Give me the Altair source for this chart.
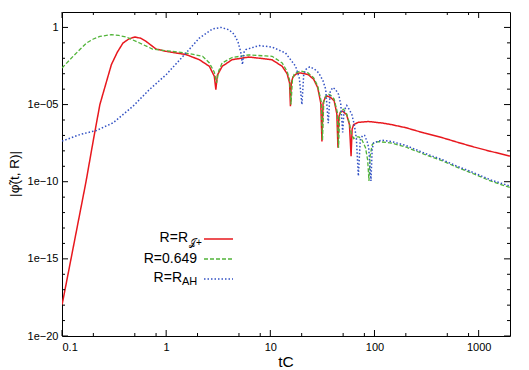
import altair as alt
import pandas as pd

# ---- data (x = tC, values are log10 |phi|) ----
red_x = [0.1, 0.13, 0.17, 0.2, 0.231, 0.265, 0.298, 0.34, 0.385, 0.44, 0.5, 0.57, 0.64, 0.8, 1.0,
         1.55, 2.08, 2.6, 2.9, 3.0, 3.1, 3.45, 4.3, 6.2, 9.0, 10.4, 13.0, 14.5, 15.3, 15.6, 15.9,
         16.5, 18.0, 19.5, 23.0, 26.0, 28.5, 30.5, 31.3, 32.1, 33.9, 35.5, 38.0, 41.0, 43.5, 44.6,
         45.5, 47.0, 49.5, 54.0, 57.5, 59.6, 61.0, 63.0, 70.0, 88.0, 120.0, 146.0, 200.0, 302.0,
         450.0, 632.0, 900.0, 1300.0, 2000.0]
red_logy = [-18.0, -14.05, -10.0, -7.3, -5.0, -3.6, -2.41, -1.6, -1.01, -0.74, -0.62, -0.70, -0.9,
            -1.40, -1.55, -1.76, -2.09, -2.52, -3.17, -4.03, -3.1, -2.52, -2.09, -1.92, -2.04, -2.1,
            -2.52, -3.0, -3.6, -5.1, -3.6, -3.2, -2.98, -2.95, -3.05, -3.35, -3.9, -4.9, -7.4, -4.9,
            -4.5, -4.45, -4.55, -4.75, -5.6, -7.8, -5.8, -5.5, -5.43, -5.65, -6.3, -8.34, -6.6, -6.3,
            -6.15, -6.1, -6.2, -6.3, -6.5, -6.85, -7.15, -7.45, -7.75, -8.03, -8.34]

green_x = [0.1, 0.128, 0.15, 0.172, 0.2, 0.231, 0.298, 0.35, 0.415, 0.556, 0.74, 1.0, 1.55, 2.24,
           2.6, 2.9, 3.05, 3.2, 3.45, 4.3, 6.2, 9.0, 10.4, 13.0, 14.5, 15.3, 15.8, 16.3, 17.0, 19.5,
           23.0, 26.0, 28.5, 30.8, 31.7, 32.6, 34.0, 35.8, 38.0, 41.0, 44.0, 45.2, 46.3, 48.0, 50.5,
           54.0, 57.0, 60.0, 63.0, 67.0, 71.0, 76.0, 82.0, 86.0, 88.5, 91.0, 95.0, 100.0, 110.0,
           146.0, 200.0, 302.0, 450.0, 632.0, 900.0, 1300.0, 2000.0]
green_logy = [-2.63, -1.87, -1.4, -1.01, -0.75, -0.58, -0.47, -0.52, -0.62, -1.01, -1.40, -1.51,
              -1.66, -1.87, -2.3, -2.9, -3.6, -2.8, -2.3, -1.95, -1.78, -1.85, -1.87, -2.3, -2.85,
              -3.4, -5.0, -3.4, -3.0, -2.82, -2.95, -3.25, -3.8, -4.8, -7.3, -4.8, -4.45, -4.3, -4.4,
              -4.65, -5.5, -7.8, -5.7, -5.35, -5.3, -5.6, -6.1, -6.9, -7.2, -7.1, -7.1, -7.3, -7.8,
              -8.6, -9.95, -8.3, -7.6, -7.45, -7.4, -7.5, -7.75, -8.23, -8.65, -9.09, -9.5, -9.95,
              -10.38]

blue_x = [0.1, 0.149, 0.214, 0.31, 0.48, 0.69, 1.0, 1.55, 2.08, 2.78, 3.37, 4.0, 4.5, 4.9, 5.2,
          5.4, 5.6, 5.8, 7.3, 7.8, 10.4, 14.0, 17.5, 19.0, 20.1, 20.9, 21.8, 23.9, 26.5, 29.2, 32.0,
          34.0, 36.0, 37.5, 39.6, 42.0, 45.3, 47.5, 49.5, 51.0, 54.2, 57.0, 60.6, 64.0, 67.0, 70.0,
          73.0, 77.0, 80.4, 85.0, 88.0, 92.5, 95.0, 98.0, 117.0, 146.0, 200.0, 302.0, 450.0, 632.0,
          900.0, 1300.0, 2000.0]
blue_logy = [-7.37, -6.94, -6.68, -6.18, -5.11, -4.03, -3.06, -1.66, -0.69, -0.10, 0.0, -0.15,
             -0.45, -0.95, -1.6, -2.41, -1.6, -1.44, -1.23, -1.18, -1.27, -1.66, -2.52, -3.3, -5.0,
             -3.1, -2.73, -2.55, -2.7, -2.95, -3.45, -4.0, -6.2, -4.2, -3.9, -4.0, -4.35, -5.0,
             -6.8, -5.4, -5.06, -5.3, -5.64, -6.3, -7.2, -9.63, -7.3, -7.0, -7.0, -7.4, -7.8, -9.95,
             -7.9, -7.48, -7.31, -7.4, -7.65, -8.15, -8.58, -9.02, -9.42, -9.88, -10.28]

x_major = [0.1, 1, 10, 100, 1000]
x_minor = [0.2, 0.5, 0.8, 2, 5, 8, 20, 50, 80, 200, 500, 800]
y_major = [1e-20, 1e-15, 1e-10, 1e-05, 1]
y_minor = [1e-19, 1e-18, 1e-17, 1e-16, 1e-14, 1e-13, 1e-12, 1e-11, 1e-09, 1e-08, 1e-07, 1e-06,
           1e-04, 1e-03, 1e-02, 1e-01]

RED, GREEN, BLUE = "#e8181e", "#52b43a", "#3352c4"
FONT = "Liberation Sans"
W, H = 448, 324


def series(xs, ly):
    return pd.DataFrame({"t": xs, "phi": [10.0 ** v for v in ly]})


xs = alt.Scale(type="log", domain=[0.1, 2000], nice=False)
ys = alt.Scale(type="log", domain=[1e-20, 10], nice=False)

x_axis = alt.Axis(
    values=x_major, ticks=False, tickSize=0, domain=False, grid=False,
    labelExpr="datum.value < 0.5 ? '0.1' : format(datum.value, 'd')",
    labelFont=FONT, labelFontSize=11, labelColor="#000", labelPadding=5)
y_axis = alt.Axis(
    values=y_major, ticks=False, tickSize=0, domain=False, grid=False,
    labelExpr="datum.value > 0.5 ? '1' : datum.value > 1e-6 ? '1e\u221205' : "
              "datum.value > 1e-11 ? '1e\u221210' : datum.value > 1e-16 ? '1e\u221215' : '1e\u221220'",
    labelFont=FONT, labelFontSize=11, labelColor="#000", labelPadding=4)
x_enc = alt.X("t:Q", scale=xs, title=None, axis=x_axis)
y_enc = alt.Y("phi:Q", scale=ys, title=None, axis=y_axis)


def line(df, color, dash, width):
    return alt.Chart(df).mark_line(clip=True, color=color, strokeDash=dash,
                                   strokeWidth=width).encode(x=x_enc, y=y_enc)


red = line(series(red_x, red_logy), RED, [1, 0], 1.5)
green = line(series(green_x, green_logy), GREEN, [4, 2], 1.3)
blue = line(series(blue_x, blue_logy), BLUE, [1.5, 2], 1.5)


def xticks(vals, length):
    d = pd.DataFrame({"t": vals})
    b = alt.Chart(d).mark_rule(color="black", strokeWidth=1).encode(
        x=x_enc, y=alt.value(H), y2=alt.value(H - length))
    t = alt.Chart(d).mark_rule(color="black", strokeWidth=1).encode(
        x=x_enc, y=alt.value(0), y2=alt.value(length))
    return [b, t]


def yticks(vals, length):
    d = pd.DataFrame({"phi": vals})
    l = alt.Chart(d).mark_rule(color="black", strokeWidth=1).encode(
        y=y_enc, x=alt.value(0), x2=alt.value(length))
    r = alt.Chart(d).mark_rule(color="black", strokeWidth=1).encode(
        y=y_enc, x=alt.value(W - length), x2=alt.value(W))
    return [l, r]


ticks = xticks(x_major, 6) + xticks(x_minor, 3) + yticks(y_major, 6) + yticks(y_minor, 3)

one = pd.DataFrame({"k": [0]})


def txt(s, x, y, size, align="left", angle=0, italic=False):
    kw = dict(font=FONT, fontSize=size, align=align, baseline="middle", color="#000")
    if angle:
        kw["angle"] = angle
    if italic:
        kw["fontStyle"] = "italic"
    return alt.Chart(one).mark_text(**kw).encode(
        x=alt.value(x), y=alt.value(y), text=alt.value(s))


def key(color, dash, width, y):
    return alt.Chart(one).mark_rule(color=color, strokeDash=dash, strokeWidth=width).encode(
        x=alt.value(142), x2=alt.value(171), y=alt.value(y))


legend = [
    txt("R=R", 126, 226, 14, "right"),
    txt("\U0001D4A5+", 127, 231, 10, "left"),
    key(RED, [1, 0], 1.5, 227),
    txt("R=0.649", 135, 247, 14, "right"),
    key(GREEN, [4, 2], 1.3, 247),
    txt("R=R", 120, 266, 14, "right"),
    txt("AH", 120, 270, 11, "left"),
    key(BLUE, [1.5, 2], 1.5, 267),
]

titles = [
    txt("tC", 224, 349.5, 15.5, "center"),
    txt("|\u03c6\u0303(t, R)|", -47, 162, 13.5, "center", angle=270),
]

chart = alt.layer(red, green, blue, *ticks, *legend, *titles).properties(
    width=W, height=H,
    padding={"left": 54, "top": 4, "right": 11, "bottom": 44},
    autosize=alt.AutoSizeParams(type="none"),
).configure_view(stroke="black", strokeWidth=1)

chart.save("out.html", embed_options={"renderer": "svg", "actions": False})
